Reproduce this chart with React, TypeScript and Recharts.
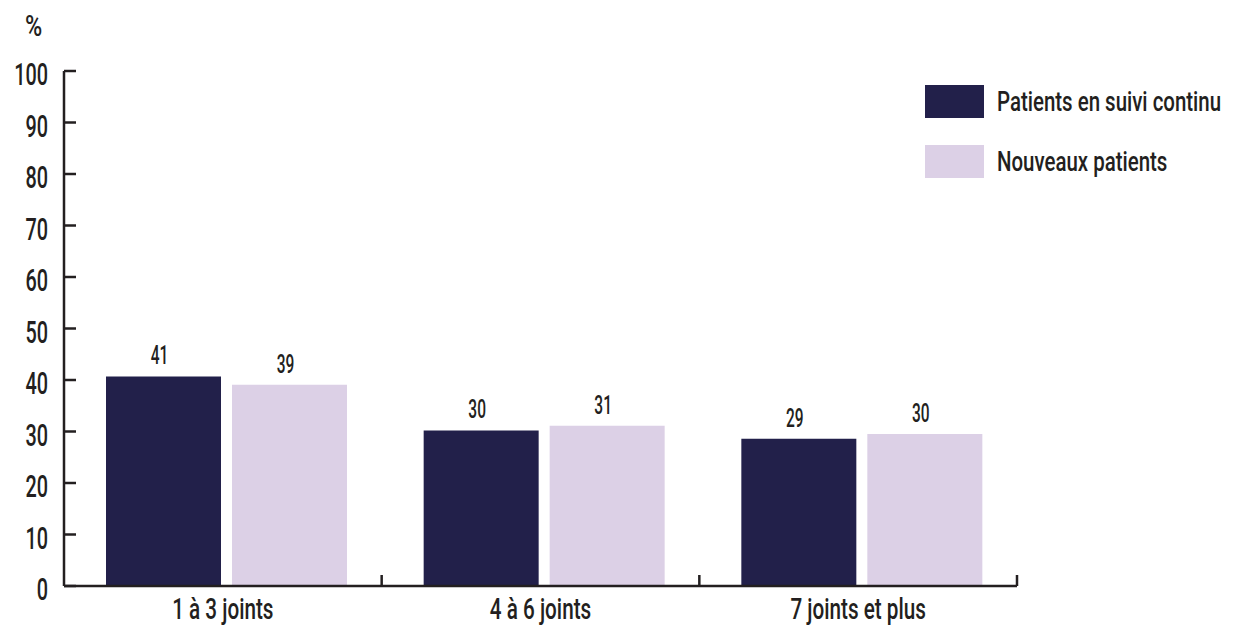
import React from 'react'
import { BarChart, Bar, XAxis, YAxis, LabelList, Rectangle } from 'recharts'

const CATEGORIES = ['1 à 3 joints', '4 à 6 joints', '7 joints et plus']
const SUIVI      = [40.7, 30.2, 28.6]   // Patients en suivi continu
const NOUVEAUX   = [39.1, 31.1, 29.5]   // Nouveaux patients
const Y_TICKS    = [0, 10, 20, 30, 40, 50, 60, 70, 80, 90, 100]
const SERIES_NAMES = ['Patients en suivi continu', 'Nouveaux patients']

const FONT  = 'Roboto, "DejaVu Sans", sans-serif'
const INK   = '#231f20'
const DARK  = '#22204a'
const LIGHT = '#dcd0e6'
const COLORS = [DARK, LIGHT]

const data = CATEGORIES.map((name, i) => ({ name, suivi: SUIVI[i], nouveaux: NOUVEAUX[i] }))

// condensed look: regular font squeezed horizontally
const Squeezed = ({ x, y, sx, size, anchor, children }: any) => (
  <g transform={`translate(${x},${y})`}>
    <text transform={`scale(${sx},1)`} textAnchor={anchor} fontFamily={FONT} fontSize={size}
      fontWeight={500} fill={INK}>
      {children}
    </text>
  </g>
)

const YTick = ({ x, y, payload }: any) => (
  <Squeezed x={x} y={y + 14} sx={0.62} size={32} anchor="end">{payload.value}</Squeezed>
)

// category label + boundary tick at the right edge of each band
const XTick = ({ x, y, payload }: any) => {
  const axisY = y - 15
  const edge = x + (payload.offset || 0)
  return (
    <g>
      <line x1={edge} x2={edge} y1={axisY} y2={axisY - 11} stroke={INK} strokeWidth={2.5} />
      <Squeezed x={x} y={axisY + 33} sx={0.69} size={30} anchor="middle">{payload.value}</Squeezed>
    </g>
  )
}

const ValueLabel = ({ x, y, width, value }: any) => (
  <Squeezed x={x + width / 2} y={y - 12} sx={0.62} size={25} anchor="middle">{Math.round(value)}</Squeezed>
)

const nudged = (p: any) => <Rectangle {...p} x={p.x + 4} />

export default function App() {
  return (
    <div style={{ position: 'absolute', left: 0, top: 0, width: 1237, height: 627, background: '#fff' }}>
      <div style={{
        position: 'absolute', left: 25, top: 11, fontFamily: FONT, fontSize: 30, fontWeight: 500, lineHeight: 1,
        color: INK, transform: 'scaleX(0.78)', transformOrigin: 'left',
      }}>%</div>

      <div style={{ position: 'absolute', left: 925, top: 85, fontFamily: FONT }}>
        {SERIES_NAMES.map((n, i) => (
          <div key={n} style={{ display: 'flex', alignItems: 'center', height: 33, marginBottom: 27 }}>
            <div style={{ width: 59, height: 33, flex: 'none', background: COLORS[i] }} />
            <span style={{
              marginLeft: 13, fontSize: 28, fontWeight: 500, color: INK, whiteSpace: 'nowrap',
              display: 'inline-block', transform: 'scaleX(0.73)', transformOrigin: 'left',
            }}>{n}</span>
          </div>
        ))}
      </div>

      <BarChart
        width={1237}
        height={627}
        data={data}
        margin={{ top: 71, right: 220, left: 0, bottom: 0 }}
        barSize={115}
        barGap={11}
      >
        <XAxis
          dataKey="name"
          height={41}
          axisLine={{ stroke: INK, strokeWidth: 2.5 }}
          tickLine={false}
          tickSize={0}
          tickMargin={15}
          tick={<XTick />}
        />
        <YAxis
          width={64}
          domain={[0, 100]}
          ticks={Y_TICKS}
          interval={0}
          axisLine={{ stroke: INK, strokeWidth: 2.5 }}
          tickLine={{ stroke: INK, strokeWidth: 2.5 }}
          tickSize={-12}
          tickMargin={28}
          tick={<YTick />}
        />
        <Bar dataKey="suivi" name={SERIES_NAMES[0]} fill={DARK} shape={nudged} isAnimationActive={false}>
          <LabelList dataKey="suivi" content={<ValueLabel />} />
        </Bar>
        <Bar dataKey="nouveaux" name={SERIES_NAMES[1]} fill={LIGHT} shape={nudged} isAnimationActive={false}>
          <LabelList dataKey="nouveaux" content={<ValueLabel />} />
        </Bar>
      </BarChart>
    </div>
  )
}
